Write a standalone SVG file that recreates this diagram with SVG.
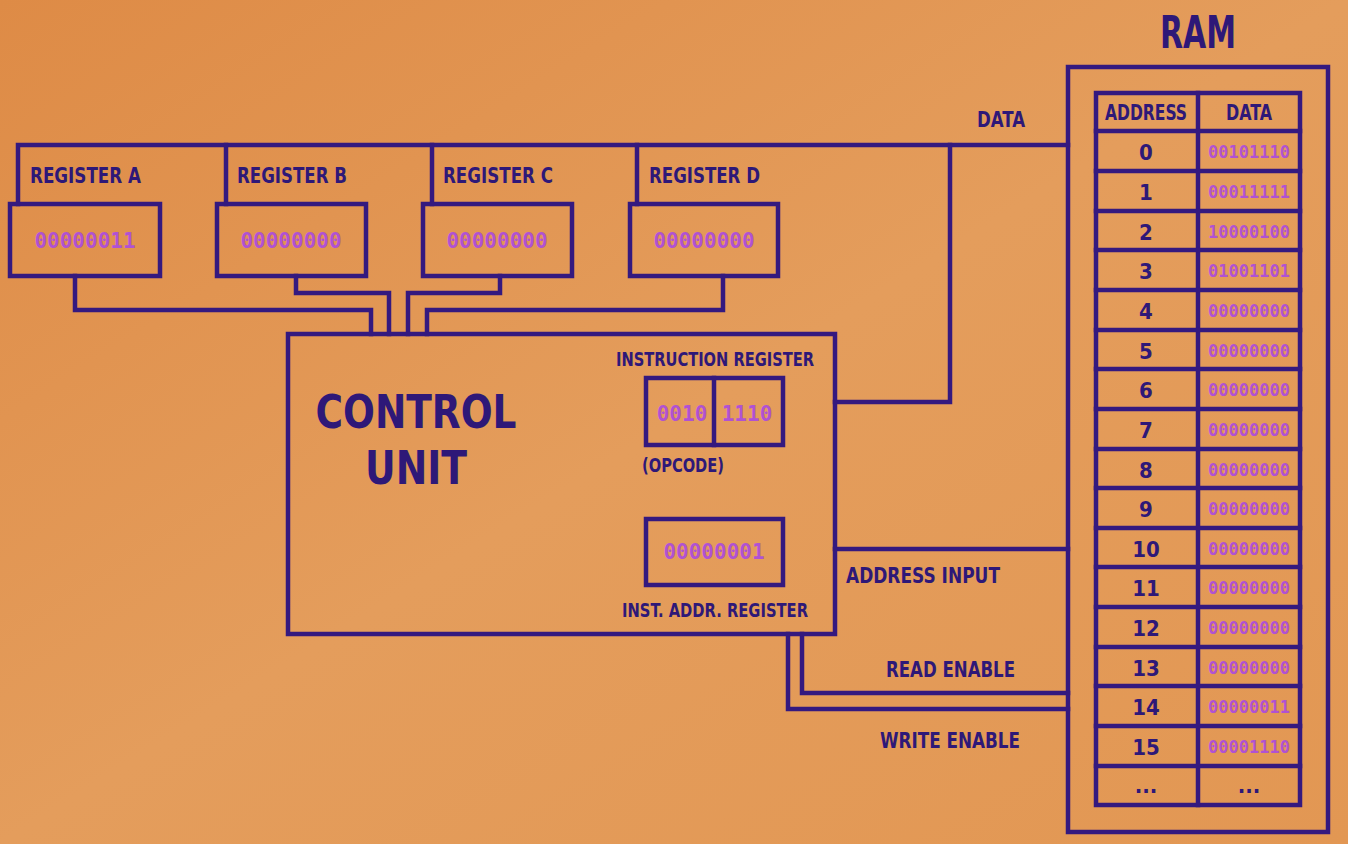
<svg xmlns="http://www.w3.org/2000/svg" width="1348" height="844" viewBox="0 0 1348 844">
<defs>
<linearGradient id="bg" x1="0" y1="0" x2="1" y2="1">
<stop offset="0" stop-color="#DE8B46"/>
<stop offset="0.5" stop-color="#E49D5C"/>
<stop offset="1" stop-color="#E29753"/>
</linearGradient>
<style>
.ln{fill:none;stroke:#34197F;stroke-width:4.5;stroke-linejoin:miter;stroke-linecap:square}
.box{fill:none;stroke:#34197F;stroke-width:4.5}
.lbl{font-family:"DejaVu Sans Condensed","Liberation Sans Narrow","Liberation Sans",sans-serif;font-weight:bold;fill:#2E1878}
.val{font-family:"DejaVu Sans Mono","Liberation Mono",monospace;font-weight:bold;fill:#B052D2}
</style>
</defs>
<rect width="1348" height="844" fill="url(#bg)"/>

<g id="connectors">
<polyline class="ln" points="18,204 18,145 1068,145"/>
<line class="ln" x1="226" y1="145" x2="226" y2="204"/>
<line class="ln" x1="432" y1="145" x2="432" y2="204"/>
<line class="ln" x1="637" y1="145" x2="637" y2="204"/>
<polyline class="ln" points="950,145 950,402 835,402"/>
<polyline class="ln" points="75,276 75,310 371,310 371,334"/>
<polyline class="ln" points="296,276 296,293 389,293 389,334"/>
<polyline class="ln" points="500,276 500,293 408,293 408,334"/>
<polyline class="ln" points="723,276 723,310 427,310 427,334"/>
<line class="ln" x1="835" y1="549" x2="1068" y2="549"/>
<polyline class="ln" points="802,634 802,693 1068,693"/>
<polyline class="ln" points="788,634 788,709 1068,709"/>
<text class="lbl" x="977" y="127" font-size="21" textLength="48" lengthAdjust="spacingAndGlyphs">DATA</text>
<text class="lbl" x="846" y="583" font-size="22" textLength="154" lengthAdjust="spacingAndGlyphs">ADDRESS INPUT</text>
<text class="lbl" x="886" y="677" font-size="22" textLength="129" lengthAdjust="spacingAndGlyphs">READ ENABLE</text>
<text class="lbl" x="880" y="748" font-size="22" textLength="140" lengthAdjust="spacingAndGlyphs">WRITE ENABLE</text>
</g>

<g id="register-a">
<text class="lbl" x="30" y="183" font-size="22" textLength="111" lengthAdjust="spacingAndGlyphs">REGISTER A</text>
<rect class="box" x="10" y="204" width="150" height="72"/>
<text class="val" x="85" y="248" font-size="21" text-anchor="middle">00000011</text>
</g>
<g id="register-b">
<text class="lbl" x="237" y="183" font-size="22" textLength="110" lengthAdjust="spacingAndGlyphs">REGISTER B</text>
<rect class="box" x="217" y="204" width="149" height="72"/>
<text class="val" x="291" y="248" font-size="21" text-anchor="middle">00000000</text>
</g>
<g id="register-c">
<text class="lbl" x="443" y="183" font-size="22" textLength="110" lengthAdjust="spacingAndGlyphs">REGISTER C</text>
<rect class="box" x="423" y="204" width="149" height="72"/>
<text class="val" x="497" y="248" font-size="21" text-anchor="middle">00000000</text>
</g>
<g id="register-d">
<text class="lbl" x="649" y="183" font-size="22" textLength="111" lengthAdjust="spacingAndGlyphs">REGISTER D</text>
<rect class="box" x="630" y="204" width="148" height="72"/>
<text class="val" x="704" y="248" font-size="21" text-anchor="middle">00000000</text>
</g>

<g id="control-unit">
<rect class="box" x="288" y="334" width="547" height="300"/>
<text class="lbl" x="416" y="428" font-size="47" text-anchor="middle" textLength="201" lengthAdjust="spacingAndGlyphs">CONTROL</text>
<text class="lbl" x="416" y="484" font-size="47" text-anchor="middle" textLength="102" lengthAdjust="spacingAndGlyphs">UNIT</text>
</g>

<g id="instruction-register">
<text class="lbl" x="616" y="366" font-size="20" textLength="198" lengthAdjust="spacingAndGlyphs">INSTRUCTION REGISTER</text>
<rect class="box" x="646" y="378" width="137" height="67"/>
<line class="ln" x1="714" y1="378" x2="714" y2="445"/>
<text class="val" x="682" y="421" font-size="21" text-anchor="middle">0010</text>
<text class="val" x="747" y="421" font-size="21" text-anchor="middle">1110</text>
<text class="lbl" x="642" y="472" font-size="20" textLength="82" lengthAdjust="spacingAndGlyphs">(OPCODE)</text>
</g>

<g id="inst-addr-register">
<rect class="box" x="646" y="519" width="137" height="66"/>
<text class="val" x="714" y="559" font-size="21" text-anchor="middle">00000001</text>
<text class="lbl" x="622" y="617" font-size="20" textLength="186" lengthAdjust="spacingAndGlyphs">INST. ADDR. REGISTER</text>
</g>

<g id="ram">
<text class="lbl" x="1198" y="48" font-size="44" text-anchor="middle" textLength="76" lengthAdjust="spacingAndGlyphs">RAM</text>
<rect class="box" x="1068" y="67" width="260" height="765"/>
<rect class="box" x="1096" y="93" width="204" height="712"/>
<line class="ln" x1="1198" y1="93" x2="1198" y2="805"/>
<g class="ln">
<line x1="1096" y1="131" x2="1300" y2="131"/>
<line x1="1096" y1="171" x2="1300" y2="171"/>
<line x1="1096" y1="211" x2="1300" y2="211"/>
<line x1="1096" y1="250" x2="1300" y2="250"/>
<line x1="1096" y1="290" x2="1300" y2="290"/>
<line x1="1096" y1="330" x2="1300" y2="330"/>
<line x1="1096" y1="369" x2="1300" y2="369"/>
<line x1="1096" y1="409" x2="1300" y2="409"/>
<line x1="1096" y1="449" x2="1300" y2="449"/>
<line x1="1096" y1="488" x2="1300" y2="488"/>
<line x1="1096" y1="528" x2="1300" y2="528"/>
<line x1="1096" y1="567" x2="1300" y2="567"/>
<line x1="1096" y1="607" x2="1300" y2="607"/>
<line x1="1096" y1="647" x2="1300" y2="647"/>
<line x1="1096" y1="686" x2="1300" y2="686"/>
<line x1="1096" y1="726" x2="1300" y2="726"/>
<line x1="1096" y1="766" x2="1300" y2="766"/>
</g>
<text class="lbl" x="1146" y="120" font-size="22" text-anchor="middle" textLength="82" lengthAdjust="spacingAndGlyphs">ADDRESS</text>
<text class="lbl" x="1249" y="120" font-size="22" text-anchor="middle" textLength="46" lengthAdjust="spacingAndGlyphs">DATA</text>
<g class="lbl" font-size="22" text-anchor="middle">
<text x="1146" y="160">0</text>
<text x="1146" y="200">1</text>
<text x="1146" y="240">2</text>
<text x="1146" y="279">3</text>
<text x="1146" y="319">4</text>
<text x="1146" y="359">5</text>
<text x="1146" y="398">6</text>
<text x="1146" y="438">7</text>
<text x="1146" y="478">8</text>
<text x="1146" y="517">9</text>
<text x="1146" y="557">10</text>
<text x="1146" y="596">11</text>
<text x="1146" y="636">12</text>
<text x="1146" y="676">13</text>
<text x="1146" y="715">14</text>
<text x="1146" y="755">15</text>
<text x="1146" y="793">...</text>
</g>
<g class="val" font-size="17" text-anchor="middle">
<text x="1249" y="158">00101110</text>
<text x="1249" y="198">00011111</text>
<text x="1249" y="238">10000100</text>
<text x="1249" y="277">01001101</text>
<text x="1249" y="317">00000000</text>
<text x="1249" y="357">00000000</text>
<text x="1249" y="396">00000000</text>
<text x="1249" y="436">00000000</text>
<text x="1249" y="476">00000000</text>
<text x="1249" y="515">00000000</text>
<text x="1249" y="555">00000000</text>
<text x="1249" y="594">00000000</text>
<text x="1249" y="634">00000000</text>
<text x="1249" y="674">00000000</text>
<text x="1249" y="713">00000011</text>
<text x="1249" y="753">00001110</text>
</g>
<text class="lbl" x="1249" y="793" font-size="22" text-anchor="middle">...</text>
</g>
</svg>
